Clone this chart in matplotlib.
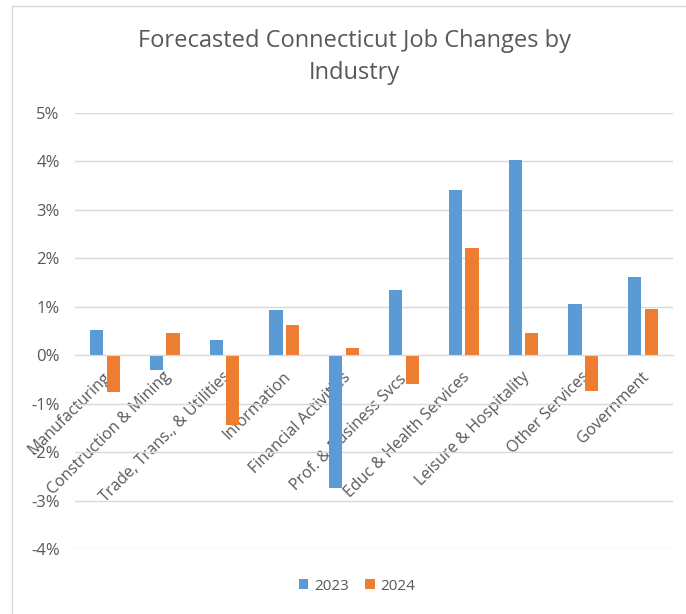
import matplotlib
matplotlib.use("Agg")
import matplotlib.pyplot as plt
import matplotlib.transforms as mtransforms
import numpy as np
from matplotlib.patches import Rectangle
from matplotlib.ticker import FuncFormatter, MultipleLocator

categories = ["Manufacturing", "Construction & Mining", "Trade, Trans., & Utilities",
              "Information", "Financial Activities", "Prof. & Business Svcs.",
              "Educ & Health Services", "Leisure & Hospitality", "Other Services",
              "Government"]
series_names = ["2023", "2024"]
values_2023 = [0.51, -0.30, 0.32, 0.94, -2.75, 1.35, 3.40, 4.02, 1.05, 1.62]
values_2024 = [-0.76, 0.45, -1.44, 0.63, 0.14, -0.60, 2.20, 0.46, -0.75, 0.96]

BLUE = "#5B9BD5"
ORANGE = "#ED7D31"
TXT = "#595959"
GRID = "#D9D9D9"
FONT = "Open Sans"

W, H = 686, 614
fig = plt.figure(figsize=(W / 100, H / 100), dpi=100)
plt.rcParams['font.family'] = [FONT, 'DejaVu Sans']

# chart border
fig.patches.append(Rectangle((12 / W, -0.05), 1.1, (H - 6) / H + 0.05, transform=fig.transFigure,
                             fill=False, edgecolor=GRID, linewidth=1.0))

ax = fig.add_axes([75 / W, (H - 549) / H, (673 - 75) / W, (549 - 112.7) / H])
x = np.arange(len(categories))
bw = 0.22
off = 0.14
ax.bar(x - off, values_2023, bw, color=BLUE, label=series_names[0], zorder=3)
ax.bar(x + off, values_2024, bw, color=ORANGE, label=series_names[1], zorder=3)

ax.set_xlim(-0.5, len(categories) - 0.5)
ax.set_ylim(-4, 5)
ax.yaxis.set_major_locator(MultipleLocator(1))
ax.yaxis.set_major_formatter(FuncFormatter(lambda v, p: f"{v:.0f}%"))
ax.grid(axis='y', color=GRID, linewidth=1.0, zorder=0)
for s in ["top", "right", "left"]:
    ax.spines[s].set_visible(False)
ax.spines["bottom"].set_position(("data", 0))
ax.spines["bottom"].set_color(GRID)
ax.spines["bottom"].set_zorder(4)
ax.tick_params(axis='y', length=0, pad=11, labelsize=12, labelcolor=TXT)
ax.tick_params(axis='x', length=0, pad=10, labelsize=11.5, labelcolor=TXT)
ax.set_xticks(x)
ax.set_xticklabels(categories, rotation=45, ha='right', va='top', rotation_mode='anchor')
shift = mtransforms.ScaledTranslation(-2 / 100, 0, fig.dpi_scale_trans)
for lab in ax.get_xticklabels():
    lab.set_transform(lab.get_transform() + shift)

fig.text(354 / W, 1 - 57 / H, "Forecasted Connecticut Job Changes by\nIndustry", ha='center', va='center',
         fontsize=17, color=TXT, linespacing=1.45)

leg = fig.legend(loc='center', bbox_to_anchor=(357 / W, 1 - 586 / H), ncol=2, frameon=False,
                 fontsize=11, handlelength=0.65, handleheight=0.65, handletextpad=0.4, columnspacing=1.0)
for t in leg.get_texts():
    t.set_color(TXT)

fig.savefig("out.png", dpi=100)
